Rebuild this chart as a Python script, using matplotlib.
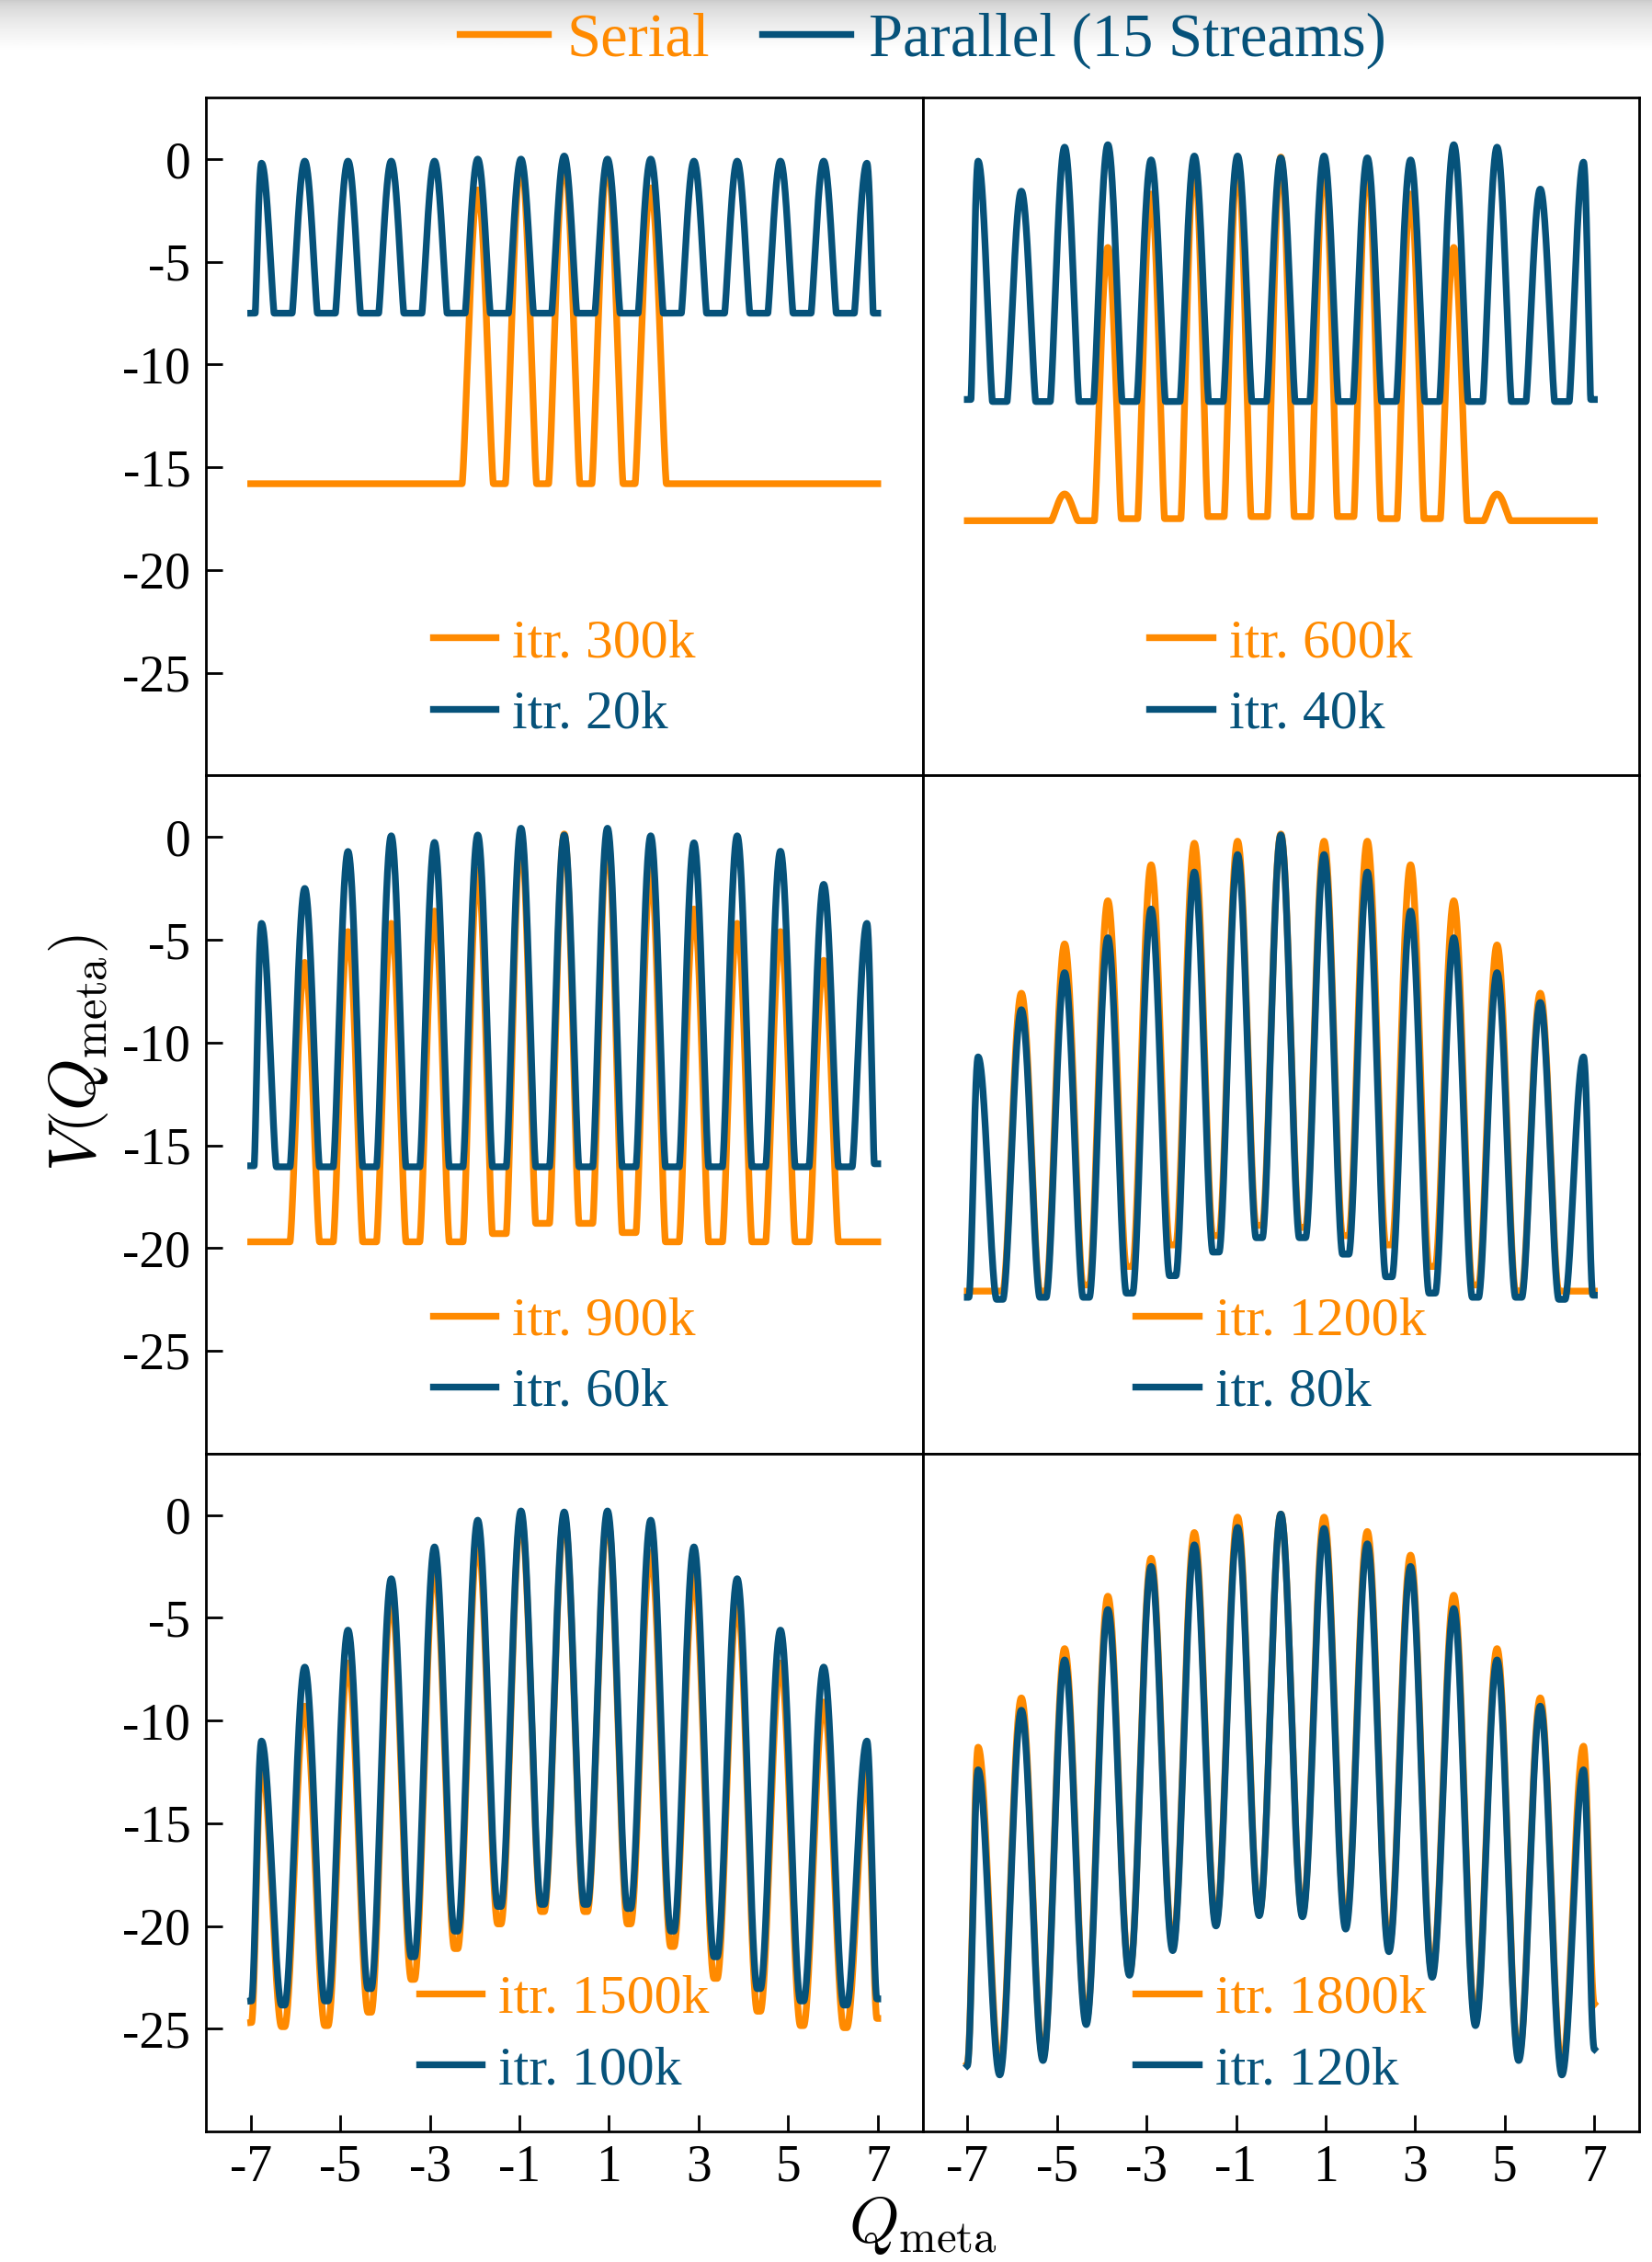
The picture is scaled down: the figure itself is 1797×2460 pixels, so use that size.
import numpy as np
import matplotlib
matplotlib.use('Agg')
import matplotlib.pyplot as plt
from matplotlib.lines import Line2D

plt.rcParams['font.family'] = ['Liberation Serif', 'DejaVu Serif']
plt.rcParams['mathtext.fontset'] = 'cm'
plt.rcParams['axes.unicode_minus'] = False

ORANGE = '#ff8a00'
BLUE = '#06527a'

# iteration labels for each panel (row-major)
serial_itr = ['300k', '600k', '900k', '1200k', '1500k', '1800k']
parallel_itr = ['20k', '40k', '60k', '80k', '100k', '120k']

# 15 barrier tops (peaks) and 14 well bottoms (valleys) per curve,
# plus the value at the ends of the range and the flat floor (None = none)
ser_peaks = [
    [-15.8, -15.8, -15.8, -15.8, -15.8, -1.5, -0.1, 0.0, -0.1, -1.4, -15.8, -15.8, -15.8, -15.8, -15.8],
    [-17.6, -17.6, -16.3, -4.3, -1.7, 0.0, 0.0, 0.1, 0.0, 0.0, -1.7, -4.3, -16.3, -17.6, -17.6],
    [-19.7, -6.1, -4.6, -4.2, -3.6, -1.6, 0.0, 0.15, 0.0, -1.6, -3.5, -4.2, -4.6, -6.0, -19.7],
    [-22.1, -7.6, -5.2, -3.1, -1.35, -0.3, -0.2, 0.15, -0.2, -0.2, -1.35, -3.1, -5.25, -7.6, -22.1],
    [-12.0, -9.3, -7.2, -4.0, -2.5, -1.2, -0.1, -0.1, -0.1, -1.8, -2.9, -4.2, -7.2, -9.1, -12.6],
    [-11.3, -8.9, -6.5, -3.95, -2.1, -0.85, -0.1, 0.05, -0.1, -0.8, -1.95, -3.9, -6.5, -8.9, -11.25],
]
ser_valleys = [
    [-15.8, -15.8, -15.8, -15.8, -15.8, -15.8, -15.8, -15.8, -15.8, -15.8, -15.8, -15.8, -15.8, -15.8],
    [-17.6, -17.6, -17.6, -17.5, -17.5, -17.4, -17.4, -17.4, -17.4, -17.5, -17.5, -17.6, -17.6, -17.6],
    [-19.7, -19.7, -19.7, -19.7, -19.7, -19.3, -18.8, -18.8, -19.25, -19.7, -19.7, -19.7, -19.7, -19.7],
    [-22.1, -22.1, -21.8, -20.9, -19.85, -19.4, -18.9, -19.0, -19.4, -19.85, -20.9, -21.8, -22.1, -22.1],
    [-24.9, -24.85, -24.2, -22.6, -21.1, -19.9, -19.3, -19.3, -19.9, -21.0, -22.55, -24.15, -24.85, -24.95],
    [-26.9, -26.4, -24.6, -22.3, -21.0, -19.8, -19.4, -19.4, -19.9, -21.0, -22.3, -24.6, -26.4, -26.9],
]
ser_ends = [(-15.8, -15.8), (-17.6, -17.6), (-19.7, -19.7), (-22.1, -22.1), (-24.7, -24.5), (-26.7, -23.8)]
ser_floor = [-15.8, -17.6, -19.7, -22.1, -24.95, None]

par_peaks = [
    [-0.2, -0.1, -0.1, -0.1, -0.1, 0.0, 0.0, 0.15, 0.0, 0.0, -0.1, -0.1, -0.1, -0.1, -0.2],
    [-0.1, -1.56, 0.58, 0.7, -0.04, 0.15, 0.15, 0.06, 0.15, 0.06, -0.04, 0.7, 0.58, -1.46, -0.15],
    [-4.2, -2.5, -0.7, 0.06, -0.26, 0.1, 0.43, 0.1, 0.43, 0.06, -0.28, 0.06, -0.69, -2.3, -4.2],
    [-10.7, -8.4, -6.6, -4.9, -3.5, -1.7, -0.85, 0.1, -0.85, -1.7, -3.6, -4.9, -6.6, -8.05, -10.7],
    [-11.0, -7.4, -5.6, -3.1, -1.55, -0.25, 0.2, 0.15, 0.2, -0.25, -1.55, -3.1, -5.6, -7.4, -11.0],
    [-12.4, -9.5, -7.05, -4.6, -2.5, -1.45, -0.6, 0.05, -0.65, -1.4, -2.5, -4.55, -7.05, -9.3, -12.4],
]
par_valleys = [
    [-7.5, -7.5, -7.5, -7.5, -7.5, -7.5, -7.5, -7.5, -7.5, -7.5, -7.5, -7.5, -7.5, -7.5],
    [-11.8, -11.8, -11.8, -11.8, -11.8, -11.8, -11.8, -11.8, -11.8, -11.8, -11.8, -11.8, -11.8, -11.8],
    [-16.05, -16.05, -16.05, -16.05, -16.05, -16.05, -16.05, -16.05, -16.05, -16.05, -16.05, -16.05, -16.05, -16.05],
    [-22.5, -22.4, -22.4, -22.2, -21.35, -20.2, -19.5, -19.5, -20.3, -21.4, -22.2, -22.4, -22.4, -22.5],
    [-23.85, -23.65, -23.05, -21.5, -20.25, -19.05, -18.95, -18.95, -19.15, -20.25, -21.5, -23.05, -23.65, -23.85],
    [-27.25, -26.55, -24.8, -22.4, -21.2, -20.0, -19.5, -19.55, -20.15, -21.25, -22.5, -24.85, -26.55, -27.25],
]
par_ends = [(-7.5, -7.5), (-11.7, -11.7), (-16.0, -15.9), (-22.4, -22.3), (-23.65, -23.55), (-26.8, -26.0)]
par_floor = [-7.5, -11.8, -16.05, -22.5, -23.85, None]

# barrier shape per panel: width (fraction of half period) and exponent
ser_width = [0.72, 0.62, 0.68, 0.85, 0.92, 1.0]
par_width = [0.58, 0.66, 0.68, 0.85, 0.92, 1.0]
ser_power = [1.3, 1.3, 1.4, 1.7, 1.8, 2.0]
par_power = [1.2, 1.3, 1.4, 1.7, 1.8, 2.0]

Q_MIN, Q_MAX = -7.0, 7.0
SPACING = (Q_MAX - Q_MIN) / 14.5
peak_q = (np.arange(15) - 7) * SPACING
valley_q = 0.5 * (peak_q[:-1] + peak_q[1:])


def profile(q, peaks, valleys, ends, floor, w, p):
    kx = [Q_MIN]
    ky = [ends[0]]
    for i in range(15):
        kx.append(peak_q[i]); ky.append(peaks[i])
        if i < 14:
            kx.append(valley_q[i]); ky.append(valleys[i])
    kx.append(Q_MAX); ky.append(ends[1])
    v = np.zeros_like(q)
    for i in range(len(kx) - 1):
        a, b = kx[i], kx[i + 1]
        m = (q >= a) & (q <= b)
        if i % 2 == 0:   # peak at right knot
            xp, hp, lo = b, ky[i + 1], ky[i]
        else:
            xp, hp, lo = a, ky[i], ky[i + 1]
        t = np.abs(q[m] - xp) / (b - a)
        g = np.cos(0.5 * np.pi * np.minimum(t / w, 1.0)) ** p
        v[m] = lo + (hp - lo) * g
    if floor is not None:
        v = np.maximum(v, floor)
    return v


W, H = 1797, 2460
fig = plt.figure(figsize=(W / 100, H / 100), dpi=100)

# grey shade at the very top of the screenshot
bg = fig.add_axes([0, 1 - 55 / H, 1, 55 / H], zorder=-5)
grad = np.linspace(0.0, 1.0, 100) ** 0.6
bg.imshow((0.79 + 0.21 * grad)[:, None], cmap='gray', vmin=0, vmax=1,
          aspect='auto', extent=[0, 1, 0, 1])
bg.axis('off')

axes = fig.subplots(3, 2, sharex=True, sharey=True)
fig.subplots_adjust(left=224 / W, right=1783 / W, bottom=1 - 2318 / H,
                    top=1 - 106 / H, wspace=0, hspace=0)

LW = 5.3
q = np.linspace(Q_MIN, Q_MAX, 4000)
for n, ax in enumerate(axes.flat):
    ys = profile(q, ser_peaks[n], ser_valleys[n], ser_ends[n], ser_floor[n],
                 ser_width[n], ser_power[n])
    yp = profile(q, par_peaks[n], par_valleys[n], par_ends[n], par_floor[n],
                 par_width[n], par_power[n])
    l1, = ax.plot(q, ys, color=ORANGE, lw=LW, label='itr. ' + serial_itr[n])
    l2, = ax.plot(q, yp, color=BLUE, lw=LW, label='itr. ' + parallel_itr[n])
    leg = ax.legend(handles=[l1, l2], loc='lower center', bbox_to_anchor=(0.5, 0.012),
                    frameon=False, fontsize=43, handlelength=1.15, handletextpad=0.3,
                    labelspacing=0.38, borderpad=0)
    for txt, c in zip(leg.get_texts(), [ORANGE, BLUE]):
        txt.set_color(c)

    ax.set_xlim(-8, 8)
    ax.set_ylim(-30, 3)
    ax.set_xticks([-7, -5, -3, -1, 1, 3, 5, 7])
    ax.set_yticks([0, -5, -10, -15, -20, -25])
    ax.tick_params(direction='in', length=13, width=2, labelsize=40)
    ax.tick_params(axis='y', pad=12)
    ax.tick_params(axis='x', pad=10)
    for s in ax.spines.values():
        s.set_linewidth(2)
    row, col = divmod(n, 2)
    if col == 1:
        ax.tick_params(axis='y', left=False, labelleft=False)
    if row < 2:
        ax.tick_params(axis='x', bottom=False, labelbottom=False)

handles = [Line2D([], [], color=ORANGE, lw=LW), Line2D([], [], color=BLUE, lw=LW)]
top = fig.legend(handles, ['Serial', 'Parallel (15 Streams)'], loc='center',
                 bbox_to_anchor=(1004 / W, 1 - 44 / H), ncol=2, frameon=False,
                 fontsize=48, handlelength=1.45, handletextpad=0.3, columnspacing=0.85,
                 borderpad=0)
for txt, c in zip(top.get_texts(), [ORANGE, BLUE]):
    txt.set_color(c)

fig.text(86 / W, 1 - 1145 / H, r'$V\left(Q_{\mathrm{meta}}\right)$', rotation=90,
         ha='center', va='center', fontsize=52)
fig.text(1004 / W, 1 - 2420 / H, r'$Q_{\mathrm{meta}}$', ha='center', va='center',
         fontsize=50)

fig.savefig('out.png', dpi=100)
